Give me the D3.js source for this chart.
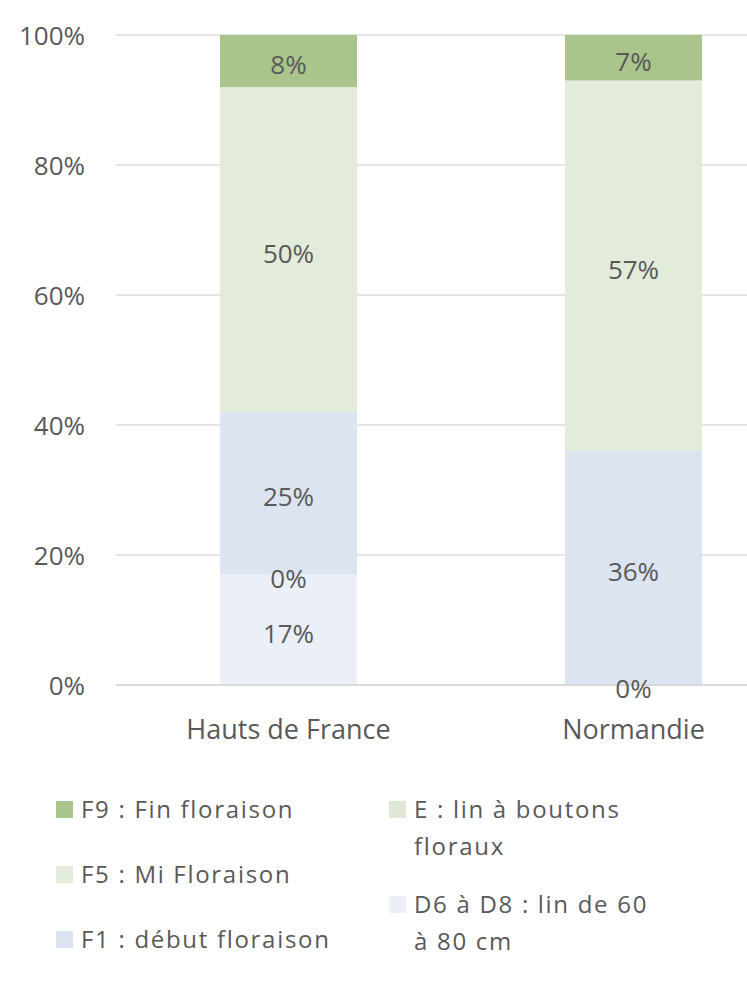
<!DOCTYPE html>
<html>
<head>
<meta charset="utf-8">
<script src="https://cdn.jsdelivr.net/npm/d3@7"></script>
<style>
  html, body { margin: 0; padding: 0; background: #ffffff; }
  svg { display: block; }
  text { font-family: "Open Sans", "Noto Sans", sans-serif; fill: #595959; }
</style>
</head>
<body>
<script>
// ---- Data ----
const categories = ["Hauts de France", "Normandie"];
const seriesNames = [
  "D6 à D8 : lin de 60 à 80 cm",
  "E : lin à boutons floraux",
  "F1 : début floraison",
  "F5 : Mi Floraison",
  "F9 : Fin floraison"
];
const seriesColors = ["#ebeff7", "#dfe8d5", "#dce4f0", "#e3ebda", "#a9c58b"];
const valuesD6 = [17, null];
const valuesE  = [0, 0];
const valuesF1 = [25, 36];
const valuesF5 = [50, 57];
const valuesF9 = [8, 7];
const yTicks = [0, 20, 40, 60, 80, 100];

const seriesValues = [valuesD6, valuesE, valuesF1, valuesF5, valuesF9];

// ---- Layout ----
const W = 747, H = 988;
const svg = d3.select("body").append("svg").attr("width", W).attr("height", H);

const x = d3.scaleBand().domain(categories).range([116, 806])
  .paddingInner(0.603).paddingOuter(0.3015);
const y = d3.scaleLinear().domain([0, 100]).range([685, 35]);

// gridlines
svg.append("g").selectAll("line").data(yTicks.filter(t => t > 0)).join("line")
  .attr("x1", 116).attr("x2", 806)
  .attr("y1", d => y(d)).attr("y2", d => y(d))
  .attr("stroke", "#e4e4e4").attr("stroke-width", 1.8);

// y axis labels
const yAxis = d3.axisLeft(y).tickValues(yTicks).tickFormat(d => d + "%").tickSize(0).tickPadding(31);
const gy = svg.append("g").attr("transform", "translate(116,0)").call(yAxis);
gy.select(".domain").remove();
gy.selectAll("text").attr("font-size", 26).attr("fill", "#595959")
  .attr("font-family", "'Open Sans', sans-serif").attr("dy", "0.35em");

// stacked data
const rows = categories.map((c, i) => {
  const o = { cat: c };
  seriesNames.forEach((s, j) => { o[s] = seriesValues[j][i]; });
  return o;
});
const stack = d3.stack().keys(seriesNames).value((d, k) => d[k] == null ? 0 : d[k]);
const stacked = stack(rows);

const layers = svg.append("g").selectAll("g").data(stacked).join("g")
  .attr("fill", (d, i) => seriesColors[i]);
layers.selectAll("rect").data(d => d.map(p => ({ p, key: d.key }))).join("rect")
  .attr("x", d => x(d.p.data.cat))
  .attr("width", x.bandwidth())
  .attr("y", d => y(d.p[1]))
  .attr("height", d => y(d.p[0]) - y(d.p[1]));

// x axis baseline
svg.append("line").attr("x1", 116).attr("x2", 806).attr("y1", y(0)).attr("y2", y(0))
  .attr("stroke", "#d9d9d9").attr("stroke-width", 1.8);

// data labels
const labelData = [];
stacked.forEach(layer => {
  layer.forEach(p => {
    const v = p.data[layer.key];
    if (v != null) labelData.push({ cat: p.data.cat, v, mid: (p[0] + p[1]) / 2 });
  });
});
svg.append("g").selectAll("text").data(labelData).join("text")
  .attr("x", d => x(d.cat) + x.bandwidth() / 2)
  .attr("y", d => y(d.mid))
  .attr("dy", "0.5em")
  .attr("text-anchor", "middle")
  .attr("font-size", 26)
  .text(d => d.v + "%");

// category labels
const xAxis = d3.axisBottom(x).tickSize(0).tickPadding(0);
const gx = svg.append("g").call(xAxis);
gx.select(".domain").remove();
gx.selectAll(".tick text").attr("y", 739).attr("dy", 0)
  .attr("font-size", 27).attr("fill", "#595959")
  .attr("font-family", "'Open Sans', sans-serif");

// legend (column-wise, reversed series order)
const legendOrder = seriesNames.map((s, i) => ({ name: s, color: seriesColors[i] })).reverse();
const legend = svg.append("g");
legendOrder.forEach((item, i) => {
  const col = i < 3 ? 0 : 1;
  const row = col === 0 ? i : i - 3;
  const baseX = col === 0 ? 56 : 389;
  const baseY = col === 0 ? 818 + row * 65 : 818 + row * 95;
  const maxW = col === 0 ? 320 : 244;
  const g = legend.append("g");
  g.append("rect").attr("x", baseX).attr("y", baseY - 17).attr("width", 17).attr("height", 17)
    .attr("fill", item.color);
  const t = g.append("text").attr("x", baseX + 25).attr("y", baseY)
    .attr("font-size", 24).attr("letter-spacing", 1.7);
  // simple word wrap
  const words = item.name.split(" ");
  let line = [];
  let lineNo = 0;
  let tspan = t.append("tspan").attr("x", baseX + 25).attr("y", baseY);
  words.forEach(w => {
    line.push(w);
    tspan.text(line.join(" "));
    if (tspan.node().getComputedTextLength() > maxW && line.length > 1) {
      line.pop();
      tspan.text(line.join(" "));
      line = [w];
      lineNo++;
      tspan = t.append("tspan").attr("x", baseX + 25).attr("y", baseY + lineNo * 37).text(w);
    }
  });
});
</script>
</body>
</html>
